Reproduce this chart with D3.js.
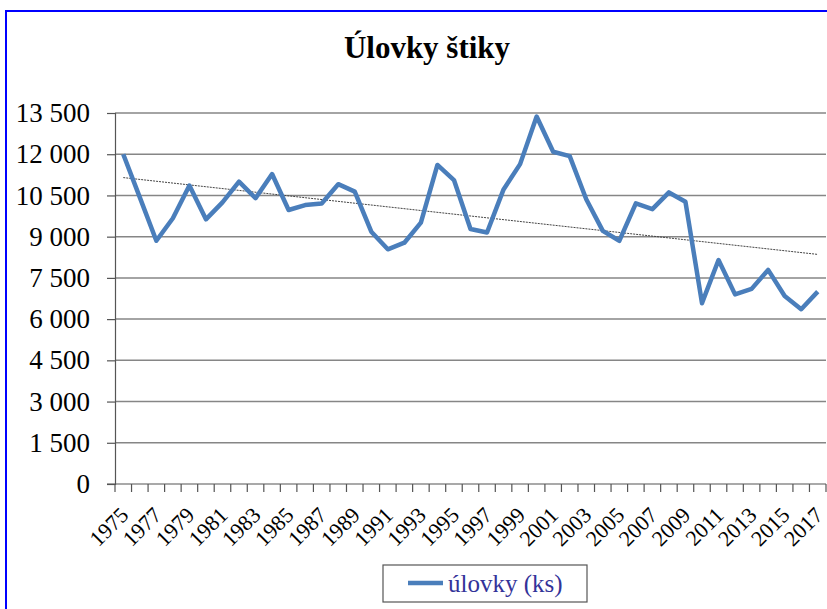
<!DOCTYPE html>
<html>
<head>
<meta charset="utf-8">
<script src="https://cdn.jsdelivr.net/npm/d3@7"></script>
<style>
  body { margin: 0; background: #fff; }
  svg { display: block; font-family: "Liberation Serif", "Times New Roman", serif; }
</style>
</head>
<body>
<div id="chart"></div>
<script>
// data
var years = d3.range(1975, 2018);
var catches = [12000, 10430, 8850, 9670, 10860, 9630, 10250, 11000, 10400, 11280,
               9970, 10150, 10210, 10910, 10640, 9180, 8540, 8780, 9510, 11610,
               11060, 9280, 9150, 10720, 11640, 13370, 12090, 11930, 10360, 9210,
               8850, 10210, 10000, 10610, 10270, 6580, 8150, 6900, 7100, 7790,
               6840, 6360, 7000];
var yTicks = [0, 1500, 3000, 4500, 6000, 7500, 9000, 10500, 12000, 13500];
var xLabels = years.filter(function(d) { return (d - 1975) % 2 === 0; });
var seriesName = "úlovky (ks)";
var title = "Úlovky štiky";

var width = 827, height = 609;
var svg = d3.select("#chart").append("svg")
  .attr("width", width).attr("height", height);

// outer frame
svg.append("rect")
  .attr("x", 6).attr("y", 11).attr("width", 900).attr("height", 700)
  .attr("fill", "none").attr("stroke", "#0000ff").attr("stroke-width", 2);

svg.append("text")
  .attr("x", 427).attr("y", 58)
  .attr("text-anchor", "middle")
  .attr("font-size", 31).attr("font-weight", "bold")
  .text(title);

var x = d3.scaleBand().domain(years).range([115, 826]);
var y = d3.scaleLinear().domain([0, 13500]).range([484, 113]);
var cx = function(d) { return x(d) + x.bandwidth() / 2; };

var fmt = d3.formatLocale({ decimal: ",", thousands: " ", grouping: [3] }).format(",d");

// gridlines
svg.append("g")
  .selectAll("line")
  .data(yTicks.filter(function(d) { return d > 0; }))
  .enter().append("line")
    .attr("x1", 115).attr("x2", 826)
    .attr("y1", function(d) { return y(d); })
    .attr("y2", function(d) { return y(d); })
    .attr("stroke", "#868686").attr("stroke-width", 1.5);

// y axis
var yAxis = svg.append("g")
  .attr("transform", "translate(115,0)")
  .call(d3.axisLeft(y).tickValues(yTicks).tickFormat(fmt).tickSize(8).tickPadding(17));
yAxis.select(".domain").attr("stroke", "#555").attr("stroke-width", 1.2);
yAxis.selectAll(".tick line").attr("stroke", "#555").attr("stroke-width", 1.2);
yAxis.selectAll("text").attr("font-size", 27).attr("fill", "#000")
  .attr("font-family", "Liberation Serif, serif");

// x axis, ticks at category boundaries
var xg = svg.append("g");
xg.append("line")
  .attr("x1", 107).attr("x2", 826).attr("y1", 484).attr("y2", 484)
  .attr("stroke", "#555").attr("stroke-width", 1.2);
xg.selectAll("line.tk")
  .data(years.concat([2018]))
  .enter().append("line")
    .attr("class", "tk")
    .attr("x1", function(d) { return d === 2018 ? 826 : x(d); })
    .attr("x2", function(d) { return d === 2018 ? 826 : x(d); })
    .attr("y1", 484).attr("y2", 492)
    .attr("stroke", "#555").attr("stroke-width", 1.2);
xg.selectAll("text")
  .data(xLabels)
  .enter().append("text")
    .attr("transform", function(d) { return "translate(" + (cx(d) + 1) + ",511) rotate(-45)"; })
    .attr("text-anchor", "end")
    .attr("dy", "0.35em")
    .attr("font-size", 22)
    .text(function(d) { return d; });

// linear trend from the data
var n = years.length;
var mx = d3.mean(years), my = d3.mean(catches);
var sxy = d3.sum(years, function(d, i) { return (d - mx) * (catches[i] - my); });
var sxx = d3.sum(years, function(d) { return (d - mx) * (d - mx); });
var slope = sxy / sxx, icpt = my - slope * mx;
svg.append("line")
  .attr("x1", cx(years[0])).attr("x2", cx(years[n - 1]))
  .attr("y1", y(icpt + slope * years[0]))
  .attr("y2", y(icpt + slope * years[n - 1]))
  .attr("stroke", "#444").attr("stroke-width", 1)
  .attr("stroke-dasharray", "2,1");

// series line
var line = d3.line()
  .x(function(d, i) { return cx(years[i]); })
  .y(function(d) { return y(d); });
svg.append("path")
  .datum(catches)
  .attr("d", line)
  .attr("fill", "none")
  .attr("stroke", "#4a7ebb")
  .attr("stroke-width", 4.5)
  .attr("stroke-linejoin", "round");

// legend
var lg = svg.append("g");
lg.append("rect")
  .attr("x", 383).attr("y", 565).attr("width", 204).attr("height", 37)
  .attr("fill", "#fff").attr("stroke", "#555").attr("stroke-width", 1.2);
lg.append("line")
  .attr("x1", 408).attr("x2", 443).attr("y1", 583).attr("y2", 583)
  .attr("stroke", "#4a7ebb").attr("stroke-width", 4.5);
lg.append("text")
  .attr("x", 448).attr("y", 592)
  .attr("font-size", 25).attr("fill", "#333399")
  .text(seriesName);
</script>
</body>
</html>
